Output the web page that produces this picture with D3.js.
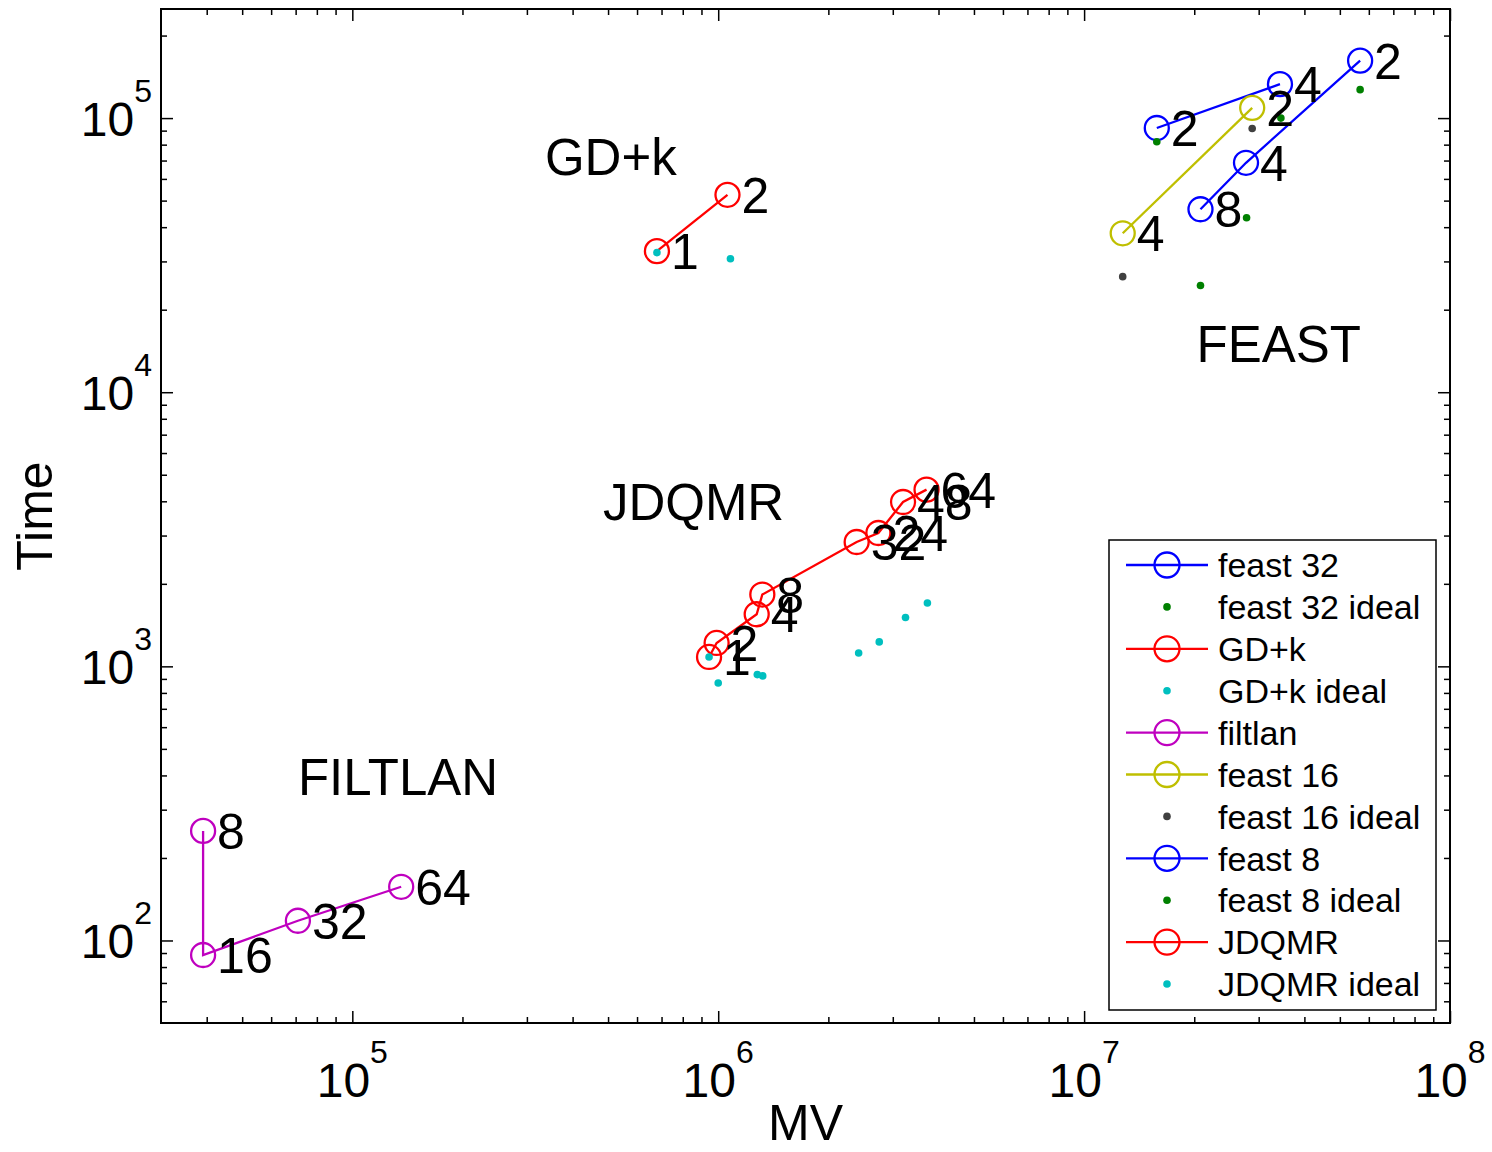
<!DOCTYPE html>
<html>
<head>
<meta charset="utf-8">
<script src="https://cdn.jsdelivr.net/npm/d3@7"></script>
<style>
  body { margin: 0; background: #fff; }
  text { font-family: "Liberation Sans", Arial, Helvetica, sans-serif; }
</style>
</head>
<body>
<div id="chart"></div>
<script>
// ---- data ----
const feast32MV = [1.58e7, 3.43e7];
const feast32Time = [9.2e4, 1.33e5];
const feast32Procs = ["2", "4"];
const feast32IdealMV = [1.58e7, 3.45e7];
const feast32IdealTime = [8.2e4, 1.0e5];

const gdkMV = [6.8e5, 1.06e6];
const gdkTime = [3.27e4, 5.25e4];
const gdkProcs = ["1", "2"];
const gdkIdealMV = [6.8e5, 1.08e6];
const gdkIdealTime = [3.23e4, 3.07e4];

const filtlanMV = [3.91e4, 3.91e4, 7.1e4, 1.36e5];
const filtlanTime = [251, 88.5, 118, 157];
const filtlanProcs = ["8", "16", "32", "64"];

const feast16MV = [2.88e7, 1.275e7];
const feast16Time = [1.09e5, 3.8e4];
const feast16Procs = ["2", "4"];
const feast16IdealMV = [2.88e7, 1.275e7];
const feast16IdealTime = [9.16e4, 2.64e4];

const feast8MV = [5.68e7, 2.77e7, 2.08e7];
const feast8Time = [1.62e5, 6.87e4, 4.65e4];
const feast8Procs = ["2", "4", "8"];
const feast8IdealMV = [5.68e7, 2.78e7, 2.08e7];
const feast8IdealTime = [1.27e5, 4.33e4, 2.45e4];

const jdqmrMV = [9.44e5, 9.9e5, 1.274e6, 1.32e6, 2.39e6, 2.74e6, 3.2e6, 3.71e6];
const jdqmrTime = [1082, 1217, 1549, 1828, 2842, 3065, 3977, 4412];
const jdqmrProcs = ["1", "2", "4", "8", "32", "24", "48", "64"];
const jdqmrIdealMV = [9.44e5, 1.0e6, 1.279e6, 1.323e6, 2.42e6, 2.755e6, 3.25e6, 3.73e6];
const jdqmrIdealTime = [1082, 870, 933, 923, 1119, 1228, 1507, 1703];

const groupNames = ["GD+k", "JDQMR", "FILTLAN", "FEAST"];
const groupMV = [3.36e5, 4.84e5, 7.1e4, 2.03e7];
const groupTime = [6.2e4, 3410, 339, 1.284e4];

const xTickExp = [5, 6, 7, 8];
const yTickExp = [2, 3, 4, 5];

// MATLAB classic colour order
const colors = {
  blue: "#0000ff", green: "#008000", red: "#ff0000", cyan: "#00bfbf",
  magenta: "#bf00bf", yellow: "#bfbf00", gray: "#404040"
};

const series = [
  { name: "feast 32", type: "line", mv: feast32MV, t: feast32Time, labels: feast32Procs, color: colors.blue },
  { name: "feast 32 ideal", type: "dot", mv: feast32IdealMV, t: feast32IdealTime, color: colors.green },
  { name: "GD+k", type: "line", mv: gdkMV, t: gdkTime, labels: gdkProcs, color: colors.red },
  { name: "GD+k ideal", type: "dot", mv: gdkIdealMV, t: gdkIdealTime, color: colors.cyan },
  { name: "filtlan", type: "line", mv: filtlanMV, t: filtlanTime, labels: filtlanProcs, color: colors.magenta },
  { name: "feast 16", type: "line", mv: feast16MV, t: feast16Time, labels: feast16Procs, color: colors.yellow },
  { name: "feast 16 ideal", type: "dot", mv: feast16IdealMV, t: feast16IdealTime, color: colors.gray },
  { name: "feast 8", type: "line", mv: feast8MV, t: feast8Time, labels: feast8Procs, color: colors.blue },
  { name: "feast 8 ideal", type: "dot", mv: feast8IdealMV, t: feast8IdealTime, color: colors.green },
  { name: "JDQMR", type: "line", mv: jdqmrMV, t: jdqmrTime, labels: jdqmrProcs, color: colors.red },
  { name: "JDQMR ideal", type: "dot", mv: jdqmrIdealMV, t: jdqmrIdealTime, color: colors.cyan }
];

const width = 1492, height = 1152;
const plot = { left: 161, right: 1450, top: 9, bottom: 1023 };

const svg = d3.select("#chart").append("svg")
  .attr("width", width)
  .attr("height", height);

const x = d3.scaleLog().domain([3e4, 1e8]).range([plot.left, plot.right]);
const y = d3.scaleLog().domain([50, 2.5e5]).range([plot.bottom, plot.top]);

// minor / major tick values
function minorTicks(scale) {
  const [a, b] = scale.domain();
  const out = [];
  for (let e = Math.floor(Math.log10(a)); e <= Math.ceil(Math.log10(b)); e++) {
    for (let m = 2; m <= 9; m++) {
      const v = m * Math.pow(10, e);
      if (v > a * 1.001 && v < b * 0.999) out.push(v);
    }
  }
  return out;
}
const xMajor = xTickExp.map(e => Math.pow(10, e));
const yMajor = yTickExp.map(e => Math.pow(10, e));

function tickAxis(axis, vals, size, transform) {
  svg.append("g")
    .attr("transform", transform)
    .call(axis.tickValues(vals).tickSize(size).tickFormat(""))
    .call(g => g.select(".domain").remove())
    .call(g => g.selectAll(".tick line").attr("stroke", "#000").attr("stroke-width", 1.5));
}

// ticks point inward on all four sides
tickAxis(d3.axisBottom(x), minorTicks(x), -6, `translate(0,${plot.bottom})`);
tickAxis(d3.axisBottom(x), xMajor, -12, `translate(0,${plot.bottom})`);
tickAxis(d3.axisTop(x), minorTicks(x), -6, `translate(0,${plot.top})`);
tickAxis(d3.axisTop(x), xMajor, -12, `translate(0,${plot.top})`);
tickAxis(d3.axisLeft(y), minorTicks(y), -6, `translate(${plot.left},0)`);
tickAxis(d3.axisLeft(y), yMajor, -12, `translate(${plot.left},0)`);
tickAxis(d3.axisRight(y), minorTicks(y), -6, `translate(${plot.right},0)`);
tickAxis(d3.axisRight(y), yMajor, -12, `translate(${plot.right},0)`);

// frame
svg.append("rect")
  .attr("x", plot.left).attr("y", plot.top)
  .attr("width", plot.right - plot.left).attr("height", plot.bottom - plot.top)
  .attr("fill", "none").attr("stroke", "#000").attr("stroke-width", 2);

// tick labels 10^n
svg.selectAll(".xlab").data(xTickExp).join("text")
  .attr("class", "xlab")
  .attr("x", d => x(Math.pow(10, d)))
  .attr("y", 1097)
  .attr("text-anchor", "middle")
  .attr("font-size", 48)
  .each(function(d) {
    const t = d3.select(this);
    t.append("tspan").text("10");
    t.append("tspan").attr("dy", -34).attr("font-size", 32).text(d);
  });

svg.selectAll(".ylab").data(yTickExp).join("text")
  .attr("class", "ylab")
  .attr("x", plot.left - 9)
  .attr("y", d => y(Math.pow(10, d)) + 18)
  .attr("text-anchor", "end")
  .attr("font-size", 48)
  .each(function(d) {
    const t = d3.select(this);
    t.append("tspan").text("10");
    t.append("tspan").attr("dy", -34).attr("font-size", 32).text(d);
  });

// axis titles
svg.append("text")
  .attr("x", (plot.left + plot.right) / 2)
  .attr("y", 1140)
  .attr("text-anchor", "middle")
  .attr("font-size", 50)
  .text("MV");

svg.append("text")
  .attr("transform", `translate(52,${(plot.top + plot.bottom) / 2}) rotate(-90)`)
  .attr("text-anchor", "middle")
  .attr("font-size", 50)
  .text("Time");

// series
const line = d3.line().x(d => x(d[0])).y(d => y(d[1]));

series.forEach(s => {
  const pts = s.mv.map((v, i) => [v, s.t[i]]);
  if (s.type === "line") {
    svg.append("path")
      .datum(pts)
      .attr("d", line)
      .attr("fill", "none")
      .attr("stroke", s.color)
      .attr("stroke-width", 2.3);
    svg.append("g").selectAll("circle").data(pts).join("circle")
      .attr("cx", d => x(d[0]))
      .attr("cy", d => y(d[1]))
      .attr("r", 12)
      .attr("fill", "none")
      .attr("stroke", s.color)
      .attr("stroke-width", 2.3);
  } else {
    svg.append("g").selectAll("circle").data(pts).join("circle")
      .attr("cx", d => x(d[0]))
      .attr("cy", d => y(d[1]))
      .attr("r", 3.8)
      .attr("fill", s.color);
  }
});

// processor count labels
series.filter(s => s.labels).forEach(s => {
  svg.append("g").selectAll("text").data(s.labels).join("text")
    .attr("x", (d, i) => x(s.mv[i]) + 14)
    .attr("y", (d, i) => y(s.t[i]))
    .attr("dy", "0.36em")
    .attr("font-size", 50)
    .text(d => d);
});

// group annotations
svg.append("g").selectAll("text").data(groupNames).join("text")
  .attr("x", (d, i) => x(groupMV[i]))
  .attr("y", (d, i) => y(groupTime[i]))
  .attr("font-size", 51)
  .text(d => d);

// legend
const legend = svg.append("g");
legend.append("rect")
  .attr("x", 1109).attr("y", 540)
  .attr("width", 327).attr("height", 470)
  .attr("fill", "#fff").attr("stroke", "#000").attr("stroke-width", 1.5);

const rowY = i => 565 + i * 41.9;
series.forEach((s, i) => {
  const g = legend.append("g").attr("transform", `translate(0,${rowY(i)})`);
  if (s.type === "line") {
    g.append("line").attr("x1", 1126).attr("x2", 1208)
      .attr("stroke", s.color).attr("stroke-width", 2.3);
    g.append("circle").attr("cx", 1167).attr("r", 12.5)
      .attr("fill", "none").attr("stroke", s.color).attr("stroke-width", 2.3);
  } else {
    g.append("circle").attr("cx", 1167).attr("r", 3.8).attr("fill", s.color);
  }
  g.append("text")
    .attr("x", 1218)
    .attr("dy", "0.36em")
    .attr("font-size", 34)
    .text(s.name);
});
</script>
</body>
</html>
